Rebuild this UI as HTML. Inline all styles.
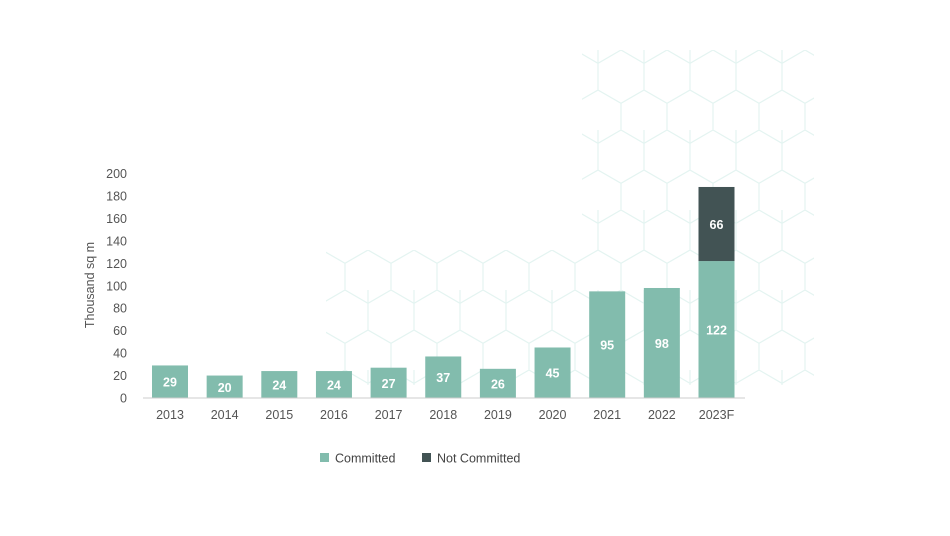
<!DOCTYPE html>
<html><head><meta charset="utf-8"><style>
body{margin:0;background:#fff;font-family:"Liberation Sans",sans-serif;}
</style></head><body>
<svg width="950" height="531" viewBox="0 0 950 531" xmlns="http://www.w3.org/2000/svg">
<defs>
<pattern id="hex" x="0" y="50" width="46" height="80" patternUnits="userSpaceOnUse">
<path d="M23 0 L46 13.3 L46 40 L23 53.3 L0 40 L0 13.3 Z M23 53.3 L23 80 M0 40 L-23 53.3 M46 40 L69 53.3 M0 80 L0 93" fill="none" stroke="#e4f4f1" stroke-width="1.2"/>
<path d="M0 -13.3 L0 13.3 M46 -13.3 L46 13.3" fill="none" stroke="#e4f4f1" stroke-width="1.2"/>
</pattern>
</defs>
<g>
<rect x="582" y="50" width="232" height="335" fill="url(#hex)"/>
<rect x="326" y="250" width="256" height="135" fill="url(#hex)"/>
</g>
<g id="yaxis"></g>
<text transform="translate(94,285) rotate(-90)" text-anchor="middle" font-size="12.5" fill="#555">Thousand sq m</text>
<g id="bars"></g>
<line x1="143" y1="398" x2="745" y2="398" stroke="#ccc" stroke-width="1"/>
<g id="xaxis"></g>
<g>
<g><rect x="320" y="453" width="9" height="9" fill="#82bcad"/><text x="335" y="462.5" font-size="12.5" fill="#444">Committed</text></g>
<g><rect x="422" y="453" width="9" height="9" fill="#425354"/><text x="437" y="462.5" font-size="12.5" fill="#444">Not Committed</text></g>
</g>
</svg>
<script>
const categories=["2013","2014","2015","2016","2017","2018","2019","2020","2021","2022","2023F"];
const committed=[29,20,24,24,27,37,26,45,95,98,122];
const notCommitted=[0,0,0,0,0,0,0,0,0,0,66];
const yTicks=[0,20,40,60,80,100,120,140,160,180,200];
const NS="http://www.w3.org/2000/svg";
const y0=398,pxPer=224.5/200,x0=170,step=54.65,bw=36;
const yS=v=>y0-v*pxPer, xS=i=>x0+i*step;
function mk(t,a,p){const e=document.createElementNS(NS,t);for(const k in a)e.setAttribute(k,a[k]);p.appendChild(e);return e;}
const ya=document.getElementById('yaxis');
yTicks.forEach(v=>{const t=mk('text',{x:127,y:yS(v)+4.5,'text-anchor':'end','font-size':12.5,fill:'#555'},ya);t.textContent=v;

});
const bars=document.getElementById('bars'),xa=document.getElementById('xaxis');
categories.forEach((c,i)=>{
 const cx=xS(i),c1=committed[i],c2=notCommitted[i];
 const r=mk('rect',{x:cx-bw/2,y:yS(c1),width:bw,height:c1*pxPer,fill:'#82bcad'},bars);
 
 
 const l=mk('text',{x:cx,y:yS(c1/2)+5,'text-anchor':'middle','font-size':12.5,'font-weight':'bold',fill:'#fff'},bars);l.textContent=c1;
 
 
 if(c2>0){
  const r2=mk('rect',{x:cx-bw/2,y:yS(c1+c2),width:bw,height:c2*pxPer,fill:'#425354'},bars);
  
  
  const l2=mk('text',{x:cx,y:yS(c1+c2/2)+5,'text-anchor':'middle','font-size':12.5,'font-weight':'bold',fill:'#fff'},bars);l2.textContent=c2;
  
  
 }
 const t=mk('text',{x:cx,y:419,'text-anchor':'middle','font-size':12.5,fill:'#555'},xa);t.textContent=c;
 
 
});
</script>
</body></html>
